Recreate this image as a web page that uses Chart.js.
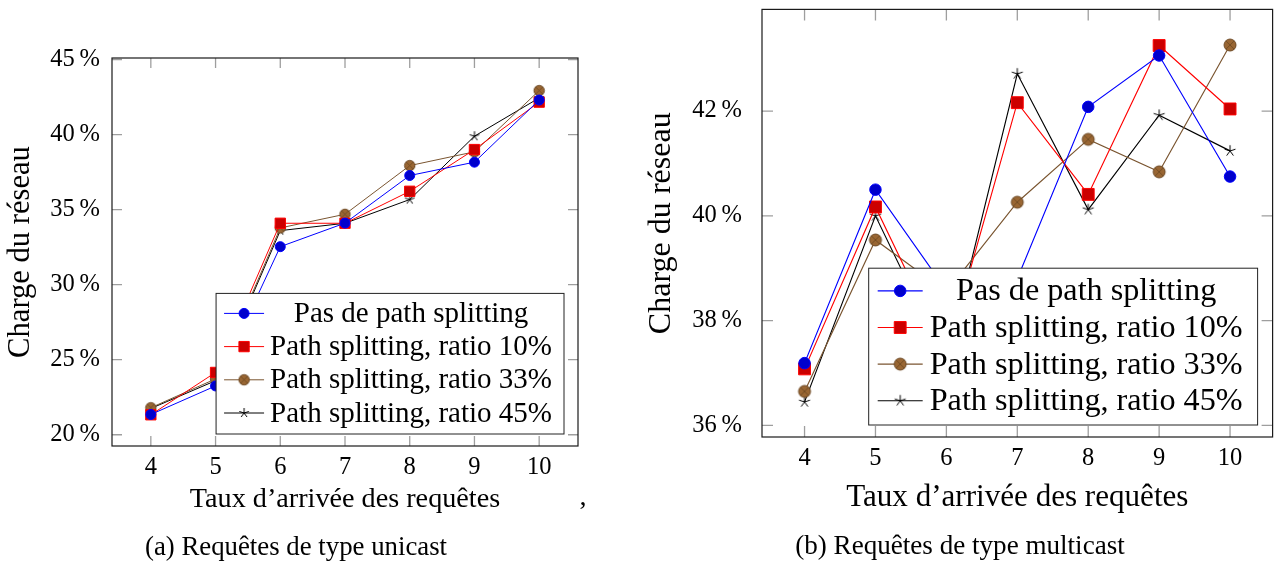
<!DOCTYPE html>
<html><head><meta charset="utf-8">
<script src="https://cdn.jsdelivr.net/npm/chart.js@4.4.1/dist/chart.umd.min.js"></script>
<style>
html,body{margin:0;padding:0;background:#fff;width:1282px;height:563px;overflow:hidden;position:relative;font-family:'Liberation Serif','Tinos','Times New Roman','DejaVu Serif',serif;color:#000}
canvas{position:absolute;top:0}
#c1{left:0;width:620px;height:563px}
#c2{left:620px;width:662px;height:563px}
.cap{position:absolute;white-space:nowrap;transform:translate(-50%,-50%);line-height:1}
</style></head><body>
<canvas id="c1" width="620" height="563"></canvas>
<canvas id="c2" width="662" height="563"></canvas>
<div class="cap" id="capA" style="left:296px;top:546px">(a) Requêtes de type unicast</div>
<div class="cap" id="capB" style="left:960px;top:546px">(b) Requêtes de type multicast</div>
<div class="cap" id="comma" style="left:583px;top:496px">,</div>
<script>
// ---- data ----
const rates = [4, 5, 6, 7, 8, 9, 10];
const seriesNames = ['Pas de path splitting', 'Path splitting, ratio 10%', 'Path splitting, ratio 33%', 'Path splitting, ratio 45%'];
const xAxisTitle = 'Taux d\u2019arrivée des requêtes';
const yAxisTitle = 'Charge du réseau';

// (a) unicast
const unicastNoSplit = [21.35, 23.25, 32.53, 34.10, 37.27, 38.16, 42.30];
const unicastRatio10 = [21.33, 24.15, 34.09, 34.09, 36.22, 39.00, 42.16];
const unicastRatio33 = [21.80, 23.72, 33.78, 34.69, 37.93, 38.85, 42.93];
const unicastRatio45 = [21.75, 23.60, 33.60, 34.09, 35.67, 39.89, 42.44];
const unicastYTicks = [20, 25, 30, 35, 40, 45];
const unicastYRange = [19.25, 45.1];

// (b) multicast
const multicastNoSplit = [37.19, 40.50, 38.58, 38.80, 42.08, 43.06, 40.75];
const multicastRatio10 = [37.08, 40.17, 37.36, 42.16, 40.41, 43.25, 42.04];
const multicastRatio33 = [36.65, 39.54, 38.55, 40.26, 41.46, 40.84, 43.26];
const multicastRatio45 = [36.45, 40.00, 37.20, 42.71, 40.12, 41.92, 41.24];
const multicastYTicks = [36, 38, 40, 42];
const multicastYRange = [35.78, 43.94];

const xRange = [3.4, 10.6];

// ---- fonts ----
const FONT = "'Liberation Serif', 'Tinos', 'Times New Roman', 'DejaVu Serif', serif";
const mctx = document.createElement('canvas').getContext('2d');
function fitSize(text, targetW) {
  mctx.font = '100px ' + FONT;
  return Math.round(100 * targetW / mctx.measureText(text).width * 10) / 10;
}

// ---- markers ----
function otimesMarker(r, fill, stroke, lw) {
  const s = Math.ceil(2 * r + 2 * lw + 2);
  const c = document.createElement('canvas'); c.width = s; c.height = s;
  const g = c.getContext('2d'); const m = s / 2;
  g.beginPath(); g.arc(m, m, r, 0, 2 * Math.PI); g.fillStyle = fill; g.fill();
  g.lineWidth = lw; g.strokeStyle = stroke; g.stroke();
  const d = r * Math.SQRT1_2;
  g.beginPath(); g.moveTo(m - d, m - d); g.lineTo(m + d, m + d); g.moveTo(m + d, m - d); g.lineTo(m - d, m + d);
  g.lineWidth = lw * 0.8; g.stroke();
  return c;
}
function starMarker(r, color, lw) {
  const s = Math.ceil(2 * r + 2 * lw + 2);
  const c = document.createElement('canvas'); c.width = s; c.height = s;
  const g = c.getContext('2d'); const m = s / 2;
  g.strokeStyle = color; g.lineWidth = lw; g.beginPath();
  for (let k = 0; k < 5; k++) {
    const a = (-90 + 72 * k) * Math.PI / 180;
    g.moveTo(m, m); g.lineTo(m + r * Math.cos(a), m + r * Math.sin(a));
  }
  g.stroke();
  return c;
}

function makeDatasets(vals, k) {
  const styles = [
    {line: '#0000ff', fill: '#0000cc', pointStyle: 'circle', radius: 5 * k},
    {line: '#ff0000', fill: '#cc0000', pointStyle: 'rect', radius: 7.3 * k},
    {line: '#7a5530', fill: '#996633', pointStyle: otimesMarker(5.2 * k, '#996633', '#6b4722', 1), radius: 5 * k},
    {line: '#000000', fill: '#000000', pointStyle: starMarker(5 * k, '#000', 1), radius: 5 * k}
  ];
  return vals.map((v, i) => ({
    label: seriesNames[i],
    data: rates.map((r, j) => ({x: r, y: v[j]})),
    borderColor: styles[i].line,
    backgroundColor: styles[i].fill,
    pointBackgroundColor: styles[i].fill,
    pointBorderColor: styles[i].line,
    pointBorderWidth: 1,
    pointStyle: styles[i].pointStyle,
    pointRadius: styles[i].radius,
    pointHoverRadius: styles[i].radius,
    borderWidth: 1 * k,
    tension: 0,
    fill: false
  }));
}

function framePlugin(cfg) {
  return {
    id: 'frame',
    afterDatasetsDraw(chart) {
      const {ctx, chartArea: a, scales: {x, y}} = chart;
      ctx.save();
      const L = cfg.tickLen;
      ctx.strokeStyle = 'rgba(0,0,0,0.38)'; ctx.lineWidth = 1.3;
      ctx.beginPath();
      x.ticks.forEach(t => {
        const px = x.getPixelForValue(t.value);
        ctx.moveTo(px, a.bottom); ctx.lineTo(px, a.bottom - L);
        ctx.moveTo(px, a.top); ctx.lineTo(px, a.top + L);
      });
      y.ticks.forEach(t => {
        const py = y.getPixelForValue(t.value);
        ctx.moveTo(a.left, py); ctx.lineTo(a.left + L, py);
        ctx.moveTo(a.right, py); ctx.lineTo(a.right - L, py);
      });
      ctx.stroke();
      ctx.strokeStyle = '#1a1a1a'; ctx.lineWidth = 1.2;
      ctx.strokeRect(a.left, a.top, a.right - a.left, a.bottom - a.top);

      // legend
      ctx.font = cfg.legFont + 'px ' + FONT;
      const ds = chart.data.datasets;
      const tw = Math.max(...ds.map(d => ctx.measureText(d.label).width));
      const bw = cfg.textStart + tw + cfg.padR;
      const bh = cfg.padT + cfg.rowH * (ds.length - 1) + cfg.padB;
      const bx = a.right - cfg.offR - bw, by = a.bottom - cfg.offB - bh;
      ctx.fillStyle = '#fff'; ctx.fillRect(bx, by, bw, bh);
      ctx.strokeStyle = '#222'; ctx.lineWidth = 1; ctx.strokeRect(bx, by, bw, bh);
      ds.forEach((d, i) => {
        const cy = by + cfg.padT + i * cfg.rowH;
        ctx.strokeStyle = d.borderColor; ctx.lineWidth = d.borderWidth;
        ctx.beginPath(); ctx.moveTo(bx + cfg.lineL, cy); ctx.lineTo(bx + cfg.lineR, cy); ctx.stroke();
        ctx.fillStyle = d.pointBackgroundColor; ctx.strokeStyle = d.pointBorderColor; ctx.lineWidth = 1;
        Chart.helpers.drawPoint(ctx, {pointStyle: d.pointStyle, radius: d.pointRadius, borderWidth: 1, rotation: 0}, bx + (cfg.lineL + cfg.lineR) / 2, cy);
        ctx.fillStyle = '#000'; ctx.textBaseline = 'middle'; ctx.textAlign = 'center';
        ctx.fillText(d.label, bx + cfg.textStart + tw / 2, cy + cfg.textDy);
      });
      ctx.restore();
    }
  };
}

function makeChart(id, vals, yTicks, yRange, o) {
  return new Chart(document.getElementById(id), {
    type: 'line',
    data: {datasets: makeDatasets(vals, o.k)},
    options: {
      responsive: false, animation: false, devicePixelRatio: 1,
      layout: {padding: {top: o.top, right: o.right, left: 0, bottom: 0}},
      plugins: {legend: {display: false}, tooltip: {enabled: false}},
      scales: {
        x: {
          type: 'linear', min: xRange[0], max: xRange[1],
          afterBuildTicks: s => { s.ticks = rates.map(v => ({value: v})); },
          afterFit: s => { s.height = o.xH; s.paddingLeft = 0; s.paddingRight = 0; },
          grid: {display: false, drawTicks: false}, border: {display: false},
          ticks: {autoSkip: false, maxRotation: 0, padding: o.xPad, color: '#000', font: {family: FONT, size: o.tickFs}, callback: v => String(v)},
          title: {display: true, text: xAxisTitle, color: '#000', font: {family: FONT, size: o.xTitleFs}, padding: {top: 0, bottom: o.xTitleB}}
        },
        y: {
          min: yRange[0], max: yRange[1],
          afterBuildTicks: s => { s.ticks = yTicks.map(v => ({value: v})); },
          afterFit: s => { s.width = o.yW; s.paddingTop = 0; s.paddingBottom = 0; },
          grid: {display: false, drawTicks: false}, border: {display: false},
          ticks: {padding: o.yPad, color: '#000', font: {family: FONT, size: o.tickFs}, callback: v => v + '\u2009%'},
          title: {display: true, text: yAxisTitle, color: '#000', font: {family: FONT, size: o.yTitleFs}, padding: {top: o.yTitleT, bottom: 0}}
        }
      }
    },
    plugins: [framePlugin(o.frame)]
  });
}

function build() {
  const tickFs = fitSize('10', 24.5);
  const legA = fitSize(seriesNames[1], 282), legB = fitSize(seriesNames[1], 313);
  const xtA = fitSize(xAxisTitle, 310), xtB = fitSize(xAxisTitle, 342);
  const ytA = fitSize(yAxisTitle, 212), ytB = fitSize(yAxisTitle, 222);
  const capA = fitSize('(a) Requêtes de type unicast', 302);
  const capB = fitSize('(b) Requêtes de type multicast', 330);
  document.getElementById('capA').style.fontSize = capA + 'px';
  document.getElementById('capB').style.fontSize = capB + 'px';
  document.getElementById('comma').style.fontSize = xtA + 'px';

  makeChart('c1', [unicastNoSplit, unicastRatio10, unicastRatio33, unicastRatio45], unicastYTicks, unicastYRange, {
    k: 1, top: 58, right: 42, xH: 117, yW: 112, xPad: 7, yPad: 12, tickFs: tickFs,
    xTitleFs: xtA, xTitleB: 46, yTitleFs: ytA, yTitleT: 3,
    frame: {tickLen: 10, legFont: legA, textStart: 54, padR: 12, padT: 20, rowH: 33.2, padB: 21, offR: 14, offB: 12, lineL: 8, lineR: 48, textDy: 1}
  });
  makeChart('c2', [multicastNoSplit, multicastRatio10, multicastRatio33, multicastRatio45], multicastYTicks, multicastYRange, {
    k: 1.15, top: 7, right: 3, xH: 126, yW: 142, xPad: 7, yPad: 20, tickFs: tickFs,
    xTitleFs: xtB, xTitleB: 47, yTitleFs: ytB, yTitleT: 22,
    frame: {tickLen: 11, legFont: legB, textStart: 61, padR: 15, padT: 22.7, rowH: 36.6, padB: 24.3, offR: 15, offB: 12, lineL: 9, lineR: 54, textDy: 1}
  });
}
if (document.fonts && document.fonts.load) {
  Promise.all([document.fonts.load("26px 'Liberation Serif'"), document.fonts.load("26px 'DejaVu Serif'")]).then(build, build);
} else build();
</script>
</body></html>
